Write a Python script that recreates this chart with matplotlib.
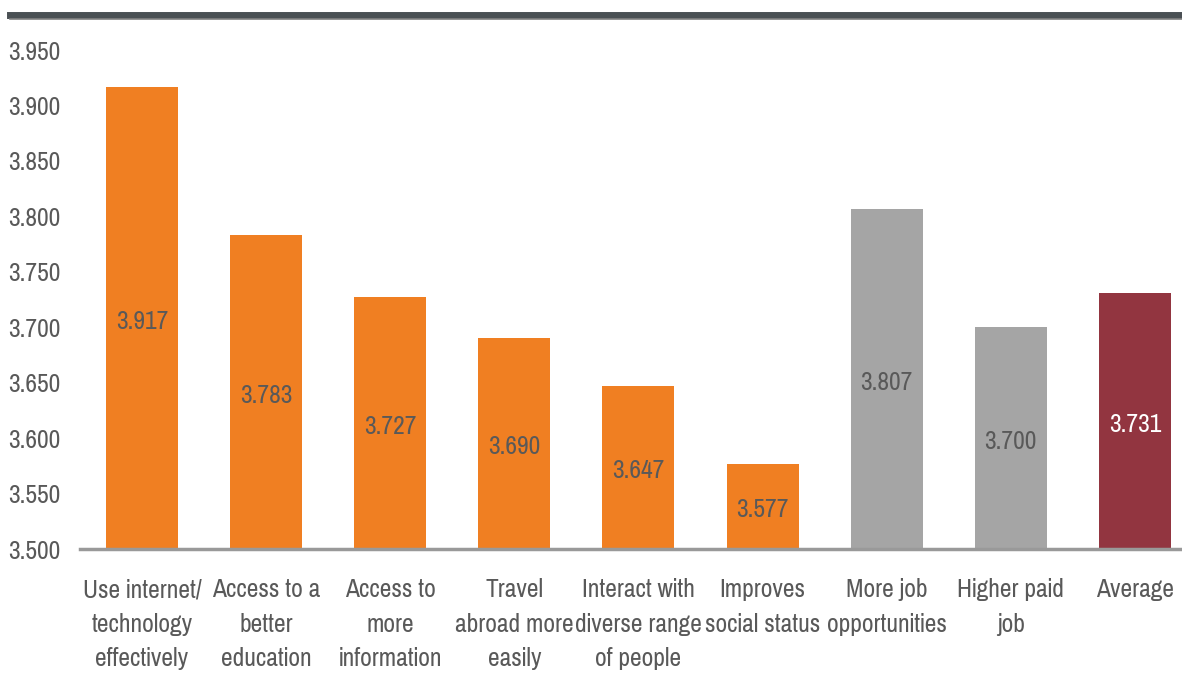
import matplotlib.pyplot as plt
from matplotlib.lines import Line2D

categories = ["Use internet/\ntechnology\neffectively", "Access to a\nbetter\neducation",
              "Access to\nmore\ninformation", "Travel\nabroad more\neasily",
              "Interact with\ndiverse range\nof people", "Improves\nsocial status",
              "More job\nopportunities", "Higher paid\njob", "Average"]
values = [3.917, 3.783, 3.727, 3.690, 3.647, 3.577, 3.807, 3.700, 3.731]
labels = ["3.917", "3.783", "3.727", "3.690", "3.647", "3.577", "3.807", "3.700", "3.731"]
groups = ["benefit"] * 6 + ["job"] * 2 + ["avg"]

colors = {"benefit": "#F07F22", "job": "#A5A5A5", "avg": "#923540"}
txtcol = {"benefit": "#595959", "job": "#595959", "avg": "white"}

plt.rcParams['font.family'] = ['Pragati Narrow', 'Roboto Condensed', 'DejaVu Sans']

fig = plt.figure(figsize=(11.82, 6.75), dpi=100)
ax = fig.add_axes([80/1182, 1-549/675, 1-80/1182, (549-50)/675])

base = 3.5
x = range(len(values))
ax.bar(x, [v - base for v in values], bottom=base, width=0.58,
       color=[colors[g] for g in groups])
for i, v in enumerate(values):
    ax.text(i, (base + v) / 2 - 0.003, labels[i], ha='center', va='center',
            fontsize=20, color=txtcol[groups[i]])

ax.set_ylim(3.5, 3.95)
ax.set_xlim(-0.5, 8.38)
ax.set_yticks([3.5 + 0.05 * k for k in range(10)])
ax.set_yticklabels(["%.3f" % (3.5 + 0.05 * k) for k in range(10)], fontsize=20, color='#595959')
ax.set_xticks(list(x))
ax.set_xticklabels(categories, fontsize=20, color='#595959', linespacing=1.6)
ax.tick_params(axis='both', length=0)
ax.tick_params(axis='x', pad=21)
ax.tick_params(axis='y', pad=14)
for s in ['top', 'right', 'left']:
    ax.spines[s].set_visible(False)
ax.spines['bottom'].set_color('#999999')
ax.spines['bottom'].set_linewidth(2.5)

# dark rule across the top
fig.add_artist(Line2D([10/1182, 1], [1-15/675, 1-15/675], color='#4A5054', lw=5))
fig.add_artist(Line2D([10/1182, 1], [1-19/675, 1-19/675], color='#808080', lw=1.2))

fig.savefig('out.png', dpi=100)
